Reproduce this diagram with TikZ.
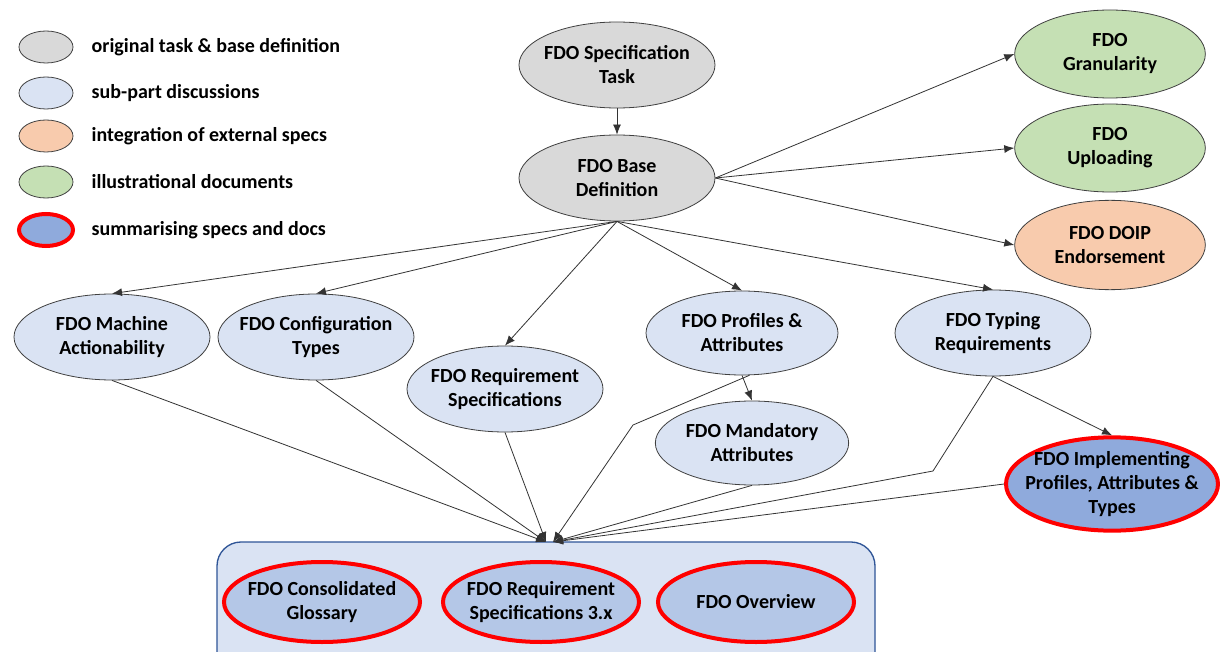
\documentclass[tikz,border=0pt]{standalone}
\usepackage{fontspec}
\setmainfont{Carlito}
\usepackage{tikz}
\usetikzlibrary{shapes.geometric,arrows.meta}
\definecolor{basegray}{HTML}{D9D9D9}
\definecolor{subblue}{HTML}{DAE3F3}
\definecolor{extorange}{HTML}{F8CBAD}
\definecolor{illugreen}{HTML}{C5E0B4}
\definecolor{summblue}{HTML}{8FAADC}
\definecolor{summlight}{HTML}{B4C7E7}
\definecolor{boxedge}{HTML}{2F5597}
\definecolor{summred}{HTML}{FF0000}

\tikzset{
  blob/.style={ellipse, draw=black!75, line width=0.6pt, inner xsep=-12pt, inner ysep=-5pt,
    minimum width=147pt, minimum height=64.5pt, align=center,
    font=\fontsize{15pt}{18pt}\selectfont\bfseries},
  basenode/.style={blob, fill=basegray},
  subnode/.style={blob, fill=subblue},
  extnode/.style={blob, fill=extorange},
  illunode/.style={blob, fill=illugreen},
  summnode/.style={blob, fill=summblue, draw=summred, line width=3pt},
  keynode/.style={ellipse, draw=black!75, line width=0.6pt, minimum width=40.5pt, minimum height=24pt},
  keytext/.style={anchor=west, font=\fontsize{15pt}{18pt}\selectfont\bfseries},
  link/.style={draw=black!80, line width=0.6pt, -{Latex[length=7.5pt,width=6pt]}}
}

\begin{document}
\begin{tikzpicture}[x=0.75pt, y=-0.75pt]
  \useasboundingbox (0,0) rectangle (1220,652);
  \fill[white] (0,0) rectangle (1220,652);

  % Legend
  \node[keynode, fill=basegray] (K1) at (46, 47) {};
  \node[keytext] (T1) at (87, 47) {original task \& base definition};
  \node[keynode, fill=subblue] (K2) at (46, 93) {};
  \node[keytext] (T2) at (87, 93) {sub-part discussions};
  \node[keynode, fill=extorange] (K3) at (46, 136) {};
  \node[keytext] (T3) at (87, 136) {integration of external specs};
  \node[keynode, fill=illugreen] (K4) at (46, 182) {};
  \node[keytext] (T4) at (87, 182) {illustrational documents};
  \node[keynode, fill=summblue, draw=summred, line width=3pt] (K5) at (46, 230) {};
  \node[keytext] (T5) at (87, 230) {summarising specs and docs};

  % Summary box
  \path[fill=subblue, draw=boxedge, line width=1pt, rounded corners=18pt] (217,542) rectangle (875,680);
  \coordinate (inL) at (546,542);
  \coordinate (inR) at (553,542);

  % Top nodes
  \node[basenode] (Task) at (617, 65) {FDO Specification\\Task};
  \node[basenode] (Base) at (617, 178) {FDO Base\\Definition};
  \node[illunode, minimum width=143pt, minimum height=66pt] (Gran) at (1110, 54) {FDO\\Granularity};
  \node[illunode, minimum width=143pt, minimum height=66pt] (Upl) at (1110, 148) {FDO\\Uploading};
  \node[extnode, minimum width=143pt, minimum height=67pt] (DOIP) at (1110, 245) {FDO DOIP\\Endorsement};

  % Sub-part discussions
  \node[subnode] (Mach) at (112, 337) {FDO Machine\\Actionability};
  \node[subnode] (Conf) at (316, 337) {FDO Configuration\\Types};
  \node[subnode] (Req) at (505, 389) {FDO Requirement\\Specifications};
  \node[subnode, minimum width=144pt, minimum height=63pt] (Prof) at (742, 333) {FDO Profiles \&\\Attributes};
  \node[subnode] (Typ) at (993, 333) {FDO Typing\\Requirements};
  \node[subnode, minimum width=145pt, minimum height=63pt] (Mand) at (752, 443) {FDO Mandatory\\Attributes};
  \node[summnode, minimum width=159pt, minimum height=70pt] (Impl) at (1112, 484) {FDO Implementing\\Profiles, Attributes \&\\Types};

  % Summarising docs
  \node[summnode, fill=summlight, minimum height=60pt] (Gloss) at (322, 602) {FDO Consolidated\\Glossary};
  \node[summnode, fill=summlight, minimum height=60pt] (Req3) at (541, 602) {FDO Requirement\\Specifications 3.x};
  \node[summnode, fill=summlight, minimum height=60pt] (Over) at (756, 602) {FDO Overview};

  % Connectors
  \draw[link] (Task) -- (Base);
  \draw[link] (Base.east) -- (Gran.west);
  \draw[link] (Base.east) -- (Upl.west);
  \draw[link] (Base.east) -- (DOIP.west);
  \draw[link] (Base.south) -- (Mach.north);
  \draw[link] (Base.south) -- (Conf.north);
  \draw[link] (Base.south) -- (Req.north);
  \draw[link] (Base.south) -- (Prof.north);
  \draw[link] (Base.south) -- (Typ.north);
  \draw[link] (Prof.south) -- (Mand.north);
  \draw[link] (Typ.south) -- (Impl.north);

  \draw[link] (Mach.south) -- (inL);
  \draw[link] (Conf.south) -- (inL);
  \draw[link] (Req.south) -- (inL);
  \draw[link] (Prof.-80) -- (633,425) -- (inR);
  \draw[link] (Mand.south) -- (inR);
  \draw[link] (Typ.south) -- (933,471) -- (inR);
  \draw[link] (Impl.west) -- (inR);
\end{tikzpicture}
\end{document}
